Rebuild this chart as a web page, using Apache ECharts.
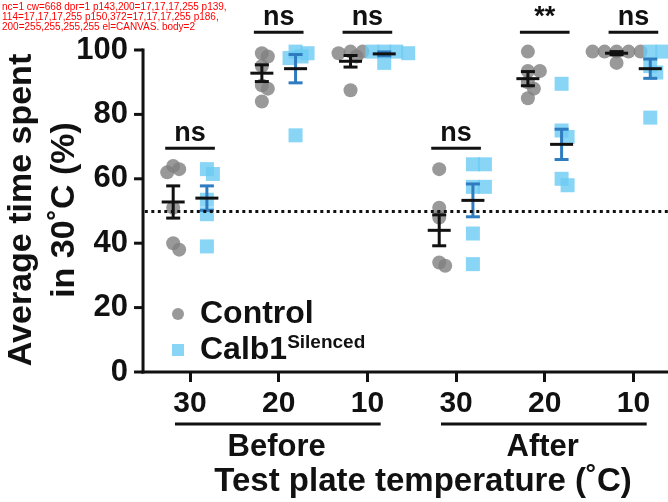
<!DOCTYPE html>
<html><head><meta charset="utf-8">
<script src="https://cdn.jsdelivr.net/npm/echarts@6/dist/echarts.min.js"></script>
<style>html,body{margin:0;padding:0;background:#fff}#c{width:668px;height:502px}</style>
</head><body><div id="c"></div>
<script>
// ---------- data ----------
const tempLabels = ['30', '20', '10', '30', '20', '10'];
const phaseNames = ['Before', 'After'];
const phaseRanges = [[0, 2], [3, 5]];
const controlValues = [
  [64, 63, 62, 51, 40, 38],
  [99, 98, 95, 89, 88, 84],
  [99.5, 99.5, 99, 98, 87.5],
  [63, 51, 48, 34, 33],
  [99.5, 93.5, 93.5, 90, 88, 85],
  [99.5, 99.5, 99.5, 99.5, 99.5, 96]
];
const silencedValues = [
  [63, 61.5, 53.5, 49, 39],
  [99.5, 99, 98, 97.5, 73.5],
  [99.5, 99.5, 99.5, 99, 96],
  [64.5, 64.5, 57.5, 57.5, 43, 33.5],
  [89.5, 75, 73, 60, 58],
  [99.5, 99.5, 95, 93, 79]
];
const controlMean = [52.8, 92.8, 96.5, 44, 91.1, 99];
const controlSem = [5, 2.6, 1.8, 4.8, 2.2, 0.5];
const silencedMean = [54, 94.2, 98.8, 53.3, 70.7, 94.2];
const silencedSem = [3.8, 4.4, 0.6, 5.1, 4.7, 3];
const sigLabels = ['ns', 'ns', 'ns', 'ns', '**', 'ns'];
const sigLevels = [69.5, 105.5, 105.5, 69.5, 105.5, 105.5];
const chanceLevel = 50;
const yTicks = [0, 20, 40, 60, 80, 100];

// ---------- layout / styling ----------
const FONT = '"Liberation Sans", Arial, Helvetica, sans-serif';
const INK = '#111111';
const GRAY = '#7f7f7f';
const LIGHTBLUE = '#6ccbf3';
const BLUE = '#2f7cc1';
const SIDE = 0.19;
const G0 = 0.53;
const XMIN = -1.613;
const XMAX = 5.92;
const gx = i => G0 + i;
const tickPos = tempLabels.map((t, i) => gx(i));

const chart = echarts.init(document.getElementById('c'), null, {renderer: 'canvas'});

function errRender(capColor) {
  return function (params, api) {
    const x = api.value(0), m = api.value(1), s = api.value(2);
    const pm = api.coord([x, m]);
    const pt = api.coord([x, m + s]);
    const pb = api.coord([x, m - s]);
    const cx = pm[0];
    const st = {stroke: capColor, lineWidth: 3};
    return {
      type: 'group',
      children: [
        {type: 'line', shape: {x1: cx, y1: pt[1], x2: cx, y2: pb[1]}, style: st},
        {type: 'line', shape: {x1: cx - 7, y1: pt[1], x2: cx + 7, y2: pt[1]}, style: st},
        {type: 'line', shape: {x1: cx - 7, y1: pb[1], x2: cx + 7, y2: pb[1]}, style: st},
        {type: 'line', shape: {x1: cx - 11.5, y1: pm[1], x2: cx + 11.5, y2: pm[1]}, style: {stroke: INK, lineWidth: 3}}
      ]
    };
  };
}

const baseOption = {
  animation: false,
  backgroundColor: '#ffffff',
  textStyle: {fontFamily: FONT},
  grid: {left: 0, right: 0, top: 50, bottom: 130, containLabel: false, outerBoundsMode: 'none'},
  xAxis: {
    type: 'value', min: XMIN, max: XMAX,
    axisLine: {show: false},
    axisTick: {show: true, length: 10, lineStyle: {color: INK, width: 3}, customValues: tickPos},
    axisLabel: {
      show: true, customValues: tickPos, margin: 17,
      formatter: v => tempLabels[Math.round(v - G0)],
      fontSize: 30, fontWeight: 'bold', color: INK, fontFamily: FONT, lineHeight: 30
    },
    splitLine: {show: false}
  },
  yAxis: {
    type: 'value', min: 0, max: 100, interval: 20, show: false,
    axisLine: {show: false}, axisTick: {show: false}, axisLabel: {show: false},
    splitLine: {show: false}
  },
  legend: {
    show: true, orient: 'vertical', left: 167, top: 293,
    itemWidth: 12, itemHeight: 12, itemGap: 3,
    data: [{name: 'Control', icon: 'circle'}, {name: 'Calb1', icon: 'rect'}],
    formatter: name => (name === 'Calb1' ? '{a|Calb1}{b|Silenced}' : '{a|Control}'),
    textStyle: {
      padding: [0, 0, 0, 11],
      rich: {
        a: {fontSize: 32, fontWeight: 'bold', color: INK, fontFamily: FONT, lineHeight: 34},
        b: {fontSize: 19, fontWeight: 'bold', color: INK, fontFamily: FONT, lineHeight: 20, verticalAlign: 'top'}
      }
    },
    selectedMode: false
  },
  graphic: [
    {
      type: 'text', x: 423, y: 482, silent: true,
      style: {text: 'Test plate temperature (˚C)', fontSize: 33, fontWeight: 'bold', fill: INK,
        fontFamily: FONT, align: 'center', verticalAlign: 'middle'}
    },
    {
      type: 'text', x: 43, y: 210, rotation: Math.PI / 2, silent: true,
      style: {text: 'Average time spent\nin 30˚C (%)', fontSize: 34, fontWeight: 'bold', fill: INK,
        fontFamily: FONT, align: 'center', verticalAlign: 'middle', lineHeight: 43}
    }
  ],
  series: []
};

chart.setOption(baseOption);

const p0 = chart.convertToPixel({xAxisIndex: 0, yAxisIndex: 0}, [0, 0]);
const p1 = chart.convertToPixel({xAxisIndex: 0, yAxisIndex: 0}, [1, 100]);
const pxX = p1[0] - p0[0];
const pxY = (p0[1] - p1[1]) / 100;

function swarm(values, center) {
  const placed = [];
  const order = values.slice().sort((a, b) => b - a);
  const out = [];
  const step = 6, minDist = 6.5;
  order.forEach(v => {
    const yp = v * pxY;
    for (let k = 0; k < 40; k++) {
      const mult = k === 0 ? 0 : (k % 2 === 1 ? (k + 1) / 2 : -k / 2);
      const xp = mult * step;
      if (placed.every(p => Math.hypot(p[0] - xp, p[1] - yp) >= minDist)) {
        placed.push([xp, yp]);
        out.push([center + xp / pxX, v]);
        break;
      }
    }
  });
  return out;
}

const controlPts = [], silencedPts = [];
controlValues.forEach((vals, i) => swarm(vals, gx(i) - SIDE).forEach(p => controlPts.push(p)));
silencedValues.forEach((vals, i) => swarm(vals, gx(i) + SIDE).forEach(p => silencedPts.push(p)));

const ctrlErr = controlMean.map((m, i) => [gx(i) - SIDE, m, controlSem[i]]);
const silErr = silencedMean.map((m, i) => [gx(i) + SIDE, m, silencedSem[i]]);
const sigData = sigLevels.map((h, i) => [gx(i), h]);
const phaseData = phaseRanges.map(r => [gx(r[0]), gx(r[1])]);
const yAxisTickData = yTicks.map(v => [0, v]);

chart.setOption({
  series: [
    {
      name: 'Control', type: 'scatter', symbol: 'circle', symbolSize: 14, z: 2,
      itemStyle: {color: GRAY}, data: controlPts, silent: true,
      markLine: {
        silent: true, symbol: ['none', 'none'], label: {show: false},
        lineStyle: {type: [3, 3.5], width: 3, color: INK},
        data: [[{coord: [0.02, chanceLevel]}, {coord: [XMAX, chanceLevel]}]]
      }
    },
    {
      name: 'Calb1', type: 'scatter', symbol: 'rect', symbolSize: 14, z: 2,
      itemStyle: {color: LIGHTBLUE}, data: silencedPts, silent: true
    },
    {
      name: 'ctrlErr', type: 'custom', z: 4, silent: true, data: ctrlErr,
      encode: {x: 0, y: 1}, renderItem: errRender(INK)
    },
    {
      name: 'silErr', type: 'custom', z: 4, silent: true, data: silErr,
      encode: {x: 0, y: 1}, renderItem: errRender(BLUE)
    },
    {
      name: 'axes', type: 'custom', z: 5, silent: true, clip: false, data: yAxisTickData,
      encode: {x: 0, y: 1},
      renderItem: function (params, api) {
        const p = api.coord([api.value(0), api.value(1)]);
        const children = [
          {type: 'line', shape: {x1: p[0] - 9, y1: p[1], x2: p[0], y2: p[1]}, style: {stroke: INK, lineWidth: 3}},
          {type: 'text', x: p[0] - 15, y: p[1],
            style: {text: String(yTicks[params.dataIndex]), fontSize: 31, fontWeight: 'bold', fill: INK,
              fontFamily: FONT, align: 'right', verticalAlign: 'middle'}}
        ];
        if (params.dataIndex === 0) {
          const top = api.coord([0, yTicks[yTicks.length - 1]]);
          const right = api.coord([XMAX, 0]);
          children.push({type: 'line', shape: {x1: p[0], y1: p[1] + 1.5, x2: top[0], y2: top[1] - 1.5}, style: {stroke: INK, lineWidth: 3}});
          children.push({type: 'line', shape: {x1: p[0] - 1.5, y1: p[1], x2: right[0], y2: right[1]}, style: {stroke: INK, lineWidth: 3}});
        }
        return {type: 'group', children: children};
      }
    },
    {
      name: 'sig', type: 'custom', z: 4, silent: true, data: sigData,
      encode: {x: 0, y: 1},
      renderItem: function (params, api) {
        const x = api.value(0), h = api.value(1);
        const a = api.coord([x - 0.28, h]);
        const b = api.coord([x + 0.28, h]);
        return {
          type: 'group', children: [
            {type: 'line', shape: {x1: a[0], y1: a[1], x2: b[0], y2: b[1]}, style: {stroke: INK, lineWidth: 3}},
            {type: 'text', x: (a[0] + b[0]) / 2, y: a[1] - 1,
              style: {text: sigLabels[params.dataIndex], fontSize: 27, fontWeight: 'bold', fill: INK,
                fontFamily: FONT, align: 'center', verticalAlign: 'bottom'}}
          ]
        };
      }
    },
    {
      name: 'phase', type: 'custom', z: 4, silent: true, data: phaseData, clip: false,
      encode: {x: 0},
      renderItem: function (params, api) {
        const s = api.value(0), e = api.value(1);
        const a = api.coord([s - 0.17, 0]);
        const b = api.coord([e + 0.15, 0]);
        const m = api.coord([(s + e) / 2, 0]);
        return {
          type: 'group', children: [
            {type: 'line', shape: {x1: a[0], y1: a[1] + 52, x2: b[0], y2: b[1] + 52}, style: {stroke: INK, lineWidth: 3}},
            {type: 'text', x: m[0] - 2, y: m[1] + 75,
              style: {text: phaseNames[params.dataIndex], fontSize: 31, fontWeight: 'bold', fill: INK,
                fontFamily: FONT, align: 'center', verticalAlign: 'middle'}}
          ]
        };
      }
    }
  ]
});

// --- temporary diagnostics ---
setTimeout(function () {
  let txt = '';
  try {
    const cv = document.querySelectorAll('canvas');
    txt += 'nc=' + cv.length + ' cw=' + cv[0].width + ' dpr=' + window.devicePixelRatio;
    const ctx = cv[0].getContext('2d');
    const px = (x, y) => Array.from(ctx.getImageData(x, y, 1, 1).data).join(',');
    txt += ' p143,200=' + px(143, 200) + ' p139,114=' + px(139, 114) + ' p150,372=' + px(150, 372) + ' p186,200=' + px(186, 200);
    const el = document.elementFromPoint(143, 200);
    txt += ' el=' + (el ? el.tagName + '.' + el.className : 'null');
    txt += ' body=' + document.body.children.length;
  } catch (e) { txt += ' ERR ' + e.message; }
  chart.setOption({graphic: [{}, {}, {type: 'text', x: 2, y: 2, z: 100, style: {text: txt, fontSize: 10, fill: 'red', width: 230, overflow: 'break'}}]});
}, 50);
</script>
</body></html>
